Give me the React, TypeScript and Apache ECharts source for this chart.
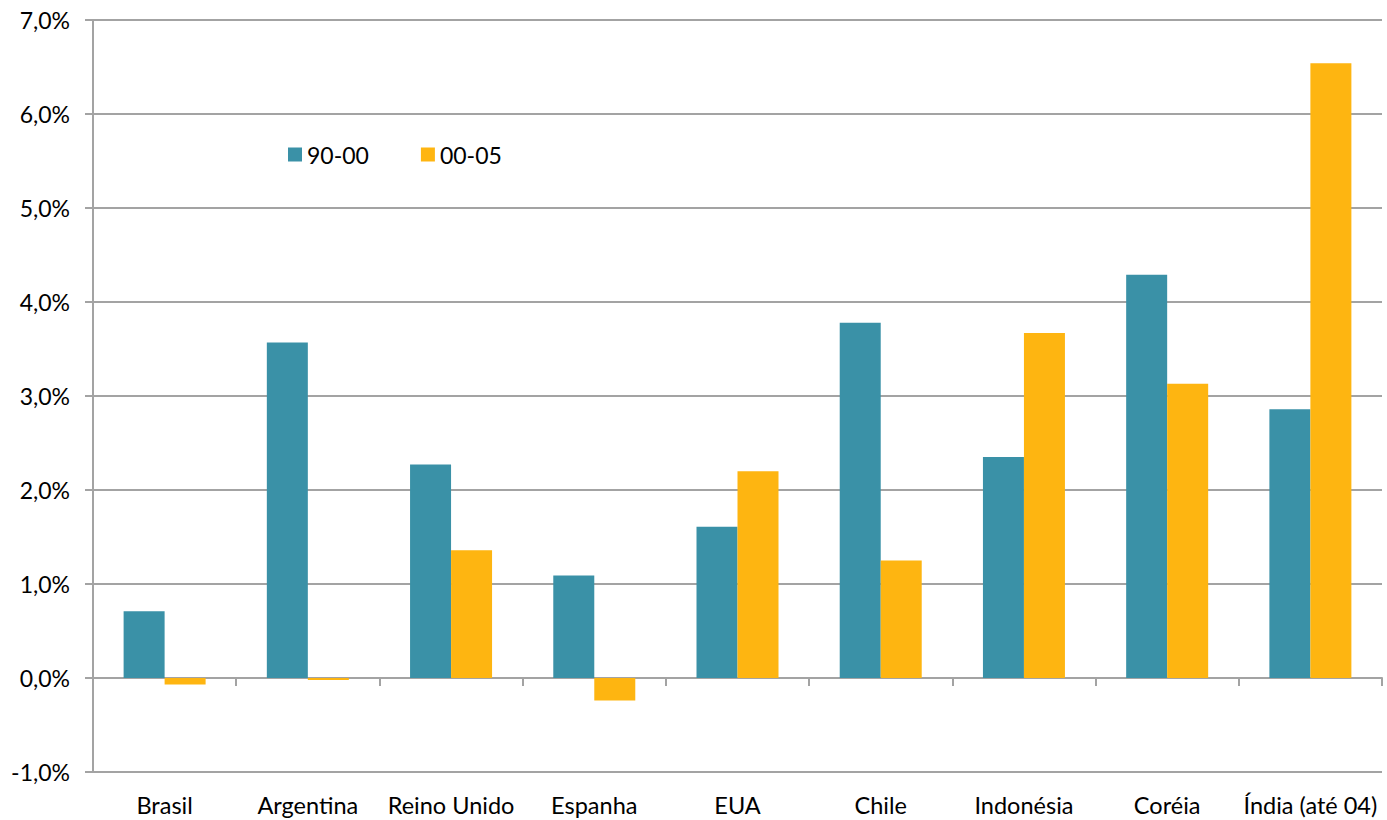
import React, { useEffect, useRef } from "react";
import * as echarts from "echarts";

const categories = ["Brasil", "Argentina", "Reino Unido", "Espanha", "EUA", "Chile", "Indonésia", "Coréia", "Índia (até 04)"];
const series9000 = [0.71, 3.57, 2.27, 1.09, 1.61, 3.78, 2.35, 4.29, 2.86];
const series0005 = [-0.07, -0.02, 1.36, -0.24, 2.2, 1.25, 3.67, 3.13, 6.54];
const seriesNames = ["90-00", "00-05"];
const yMin = -1;
const yMax = 7;
const yStep = 1;

const FONT = "Lato, 'Open Sans', sans-serif";
const AXIS_COLOR = "#A3A3A3";

export default function App() {
  const ref = useRef<HTMLDivElement>(null);
  useEffect(() => {
    if (!ref.current) return;
    const chart = echarts.init(ref.current, null, { renderer: "svg" });
    chart.setOption({
      animation: false,
      backgroundColor: "#ffffff",
      textStyle: { fontFamily: FONT },
      legend: {
        left: 283,
        top: 138,
        itemWidth: 14,
        itemHeight: 14,
        itemGap: 52,
        icon: "rect",
        textStyle: { fontSize: 23, color: "#000", fontFamily: FONT, padding: [0, 0, 0, 0] },
        data: seriesNames,
      },
      grid: { left: 93, right: 5, top: 20, bottom: 48, containLabel: false },
      xAxis: [
        {
          type: "category",
          data: categories,
          position: "bottom",
          axisLine: { show: false, onZero: false },
          axisTick: { show: false },
          axisLabel: { fontSize: 23.5, color: "#000", margin: 21, fontFamily: FONT, interval: 0 },
          splitLine: { show: false },
        },
        {
          type: "category",
          data: categories,
          position: "bottom",
          axisLine: { show: true, onZero: true, lineStyle: { color: AXIS_COLOR, width: 2 } },
          axisTick: { show: true, length: 8, lineStyle: { color: AXIS_COLOR, width: 2 } },
          axisLabel: { show: false },
          splitLine: { show: false },
        },
      ],
      yAxis: {
        type: "value",
        min: yMin,
        max: yMax,
        interval: yStep,
        axisLine: { show: true, lineStyle: { color: AXIS_COLOR, width: 2 } },
        axisTick: { show: true, length: 8, lineStyle: { color: AXIS_COLOR, width: 2 } },
        splitLine: { show: true, lineStyle: { color: AXIS_COLOR, width: 2 } },
        axisLabel: {
          fontSize: 23,
          color: "#000",
          margin: 23,
          fontFamily: FONT,
          formatter: (v: number) => v.toFixed(1).replace(".", ",") + "%",
        },
      },
      series: [
        {
          name: seriesNames[0],
          type: "bar",
          data: series9000,
          xAxisIndex: 0,
          barWidth: 41,
          barGap: "0%",
          itemStyle: { color: "#3A91A7" },
        },
        {
          name: seriesNames[1],
          type: "bar",
          data: series0005,
          xAxisIndex: 0,
          barWidth: 41,
          barGap: "0%",
          itemStyle: { color: "#FEB511" },
        },
      ],
    });
    return () => chart.dispose();
  }, []);
  return <div ref={ref} style={{ width: 1387, height: 820, position: "absolute", left: 0, top: 0 }} />;
}
